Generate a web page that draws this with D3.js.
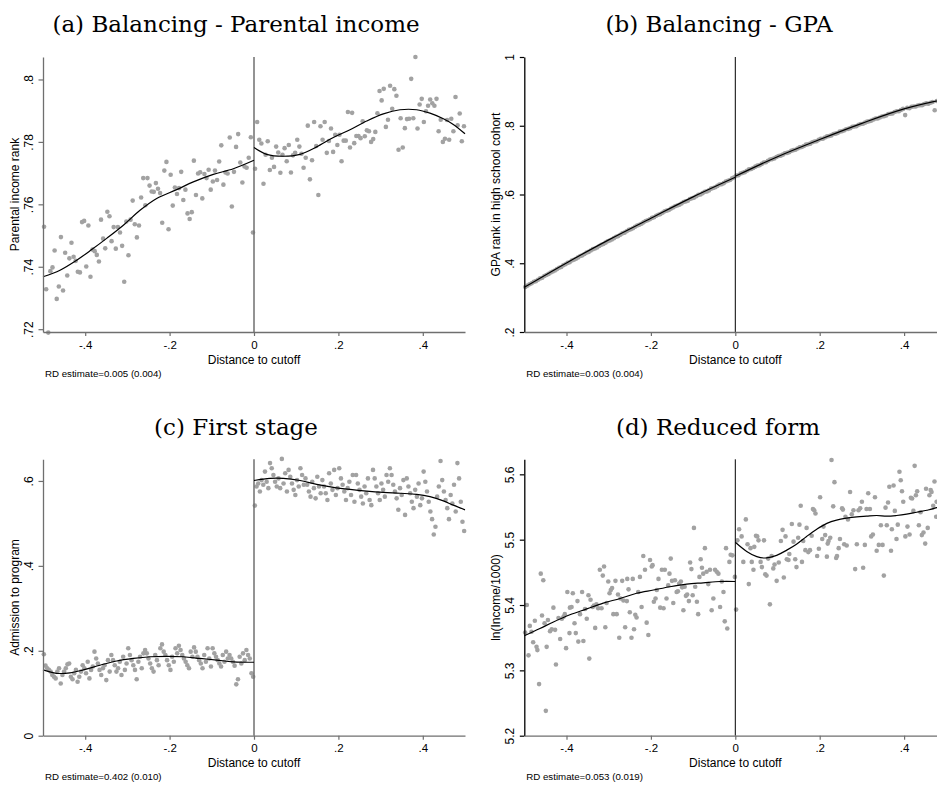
<!DOCTYPE html>
<meta charset="utf-8">
<script src="https://d3js.org/d3.v7.min.js"></script>
<style>
  body { margin: 0; background: #fff; }
  svg { display: block; }
</style>
<body>
<div id="chart"></div>
<script>

// ---- text ----
var titles = ["(a) Balancing - Parental income", "(b) Balancing - GPA", "(c) First stage", "(d) Reduced form"];
var yTitles = ["Parental income rank", "GPA rank in high school cohort", "Admission to program", "ln(Income/1000)"];
var rdNotes = ["RD estimate=0.005 (0.004)", "RD estimate=0.003 (0.004)", "RD estimate=0.402 (0.010)", "RD estimate=0.053 (0.019)"];
var xTitle = "Distance to cutoff";

// ---- ticks and y ranges ----
var xTicks = [-.4, -.2, 0, .2, .4];
var yTicksA = [.72, .74, .76, .78, .8];
var yTicksB = [.2, .4, .6, .8, 1];
var yTicksC = [0, .2, .4, .6];
var yTicksD = [5.2, 5.3, 5.4, 5.5, 5.6];
var yDomA = [.7191, .8072], yDomB = [.2, 1], yDomC = [0, .651], yDomD = [5.2, 5.623];

// ---- bin centres (distance to cutoff) ----
var bins005Left = [-.4975,-.4925,-.4875,-.4825,-.4775,-.4725,-.4675,-.4625,-.4575,-.4525,
  -.4475,-.4425,-.4375,-.4325,-.4275,-.4225,-.4175,-.4125,-.4075,-.4025,
  -.3975,-.3925,-.3875,-.3825,-.3775,-.3725,-.3675,-.3625,-.3575,-.3525,
  -.3475,-.3425,-.3375,-.3325,-.3275,-.3225,-.3175,-.3125,-.3075,-.3025,
  -.2975,-.2925,-.2875,-.2825,-.2775,-.2725,-.2675,-.2625,-.2575,-.2525,
  -.2475,-.2425,-.2375,-.2325,-.2275,-.2225,-.2175,-.2125,-.2075,-.2025,
  -.1975,-.1925,-.1875,-.1825,-.1775,-.1725,-.1675,-.1625,-.1575,-.1525,
  -.1475,-.1425,-.1375,-.1325,-.1275,-.1225,-.1175,-.1125,-.1075,-.1025,
  -.0975,-.0925,-.0875,-.0825,-.0775,-.0725,-.0675,-.0625,-.0575,-.0525,
  -.0475,-.0425,-.0375,-.0325,-.0275,-.0225,-.0175,-.0125,-.0075,-.0025];
var bins005Right = [.0025,.0075,.0125,.0175,.0225,.0275,.0325,.0375,.0425,.0475,
  .0525,.0575,.0625,.0675,.0725,.0775,.0825,.0875,.0925,.0975,
  .1025,.1075,.1125,.1175,.1225,.1275,.1325,.1375,.1425,.1475,
  .1525,.1575,.1625,.1675,.1725,.1775,.1825,.1875,.1925,.1975,
  .2025,.2075,.2125,.2175,.2225,.2275,.2325,.2375,.2425,.2475,
  .2525,.2575,.2625,.2675,.2725,.2775,.2825,.2875,.2925,.2975,
  .3025,.3075,.3125,.3175,.3225,.3275,.3325,.3375,.3425,.3475,
  .3525,.3575,.3625,.3675,.3725,.3775,.3825,.3875,.3925,.3975,
  .4025,.4075,.4125,.4175,.4225,.4275,.4325,.4375,.4425,.4475,
  .4525,.4575,.4625,.4675,.4725,.4775,.4825,.4875,.4925,.4975];
var bins004Left = [-.498,-.494,-.490,-.486,-.482,-.478,-.474,-.470,-.466,-.462,
  -.458,-.454,-.450,-.446,-.442,-.438,-.434,-.430,-.426,-.422,
  -.418,-.414,-.410,-.406,-.402,-.398,-.394,-.390,-.386,-.382,
  -.378,-.374,-.370,-.366,-.362,-.358,-.354,-.350,-.346,-.342,
  -.338,-.334,-.330,-.326,-.322,-.318,-.314,-.310,-.306,-.302,
  -.298,-.294,-.290,-.286,-.282,-.278,-.274,-.270,-.266,-.262,
  -.258,-.254,-.250,-.246,-.242,-.238,-.234,-.230,-.226,-.222,
  -.218,-.214,-.210,-.206,-.202,-.198,-.194,-.190,-.186,-.182,
  -.178,-.174,-.170,-.166,-.162,-.158,-.154,-.150,-.146,-.142,
  -.138,-.134,-.130,-.126,-.122,-.118,-.114,-.110,-.106,-.102,
  -.098,-.094,-.090,-.086,-.082,-.078,-.074,-.070,-.066,-.062,
  -.058,-.054,-.050,-.046,-.042,-.038,-.034,-.030,-.026,-.022,
  -.018,-.014,-.010,-.006,-.002];
var bins004Right = [.002,.006,.010,.014,.018,.022,.026,.030,.034,.038,
  .042,.046,.050,.054,.058,.062,.066,.070,.074,.078,
  .082,.086,.090,.094,.098,.102,.106,.110,.114,.118,
  .122,.126,.130,.134,.138,.142,.146,.150,.154,.158,
  .162,.166,.170,.174,.178,.182,.186,.190,.194,.198,
  .202,.206,.210,.214,.218,.222,.226,.230,.234,.238,
  .242,.246,.250,.254,.258,.262,.266,.270,.274,.278,
  .282,.286,.290,.294,.298,.302,.306,.310,.314,.318,
  .322,.326,.330,.334,.338,.342,.346,.350,.354,.358,
  .362,.366,.370,.374,.378,.382,.386,.390,.394,.398,
  .402,.406,.410,.414,.418,.422,.426,.430,.434,.438,
  .442,.446,.450,.454,.458,.462,.466,.470,.474,.478,
  .482,.486,.490,.494,.498];

// ---- (a) parental income rank, bin means ----
var aLeftY = [.7528,.7328,.7189,.7386,.7398,.7452,.7297,.7337,.7495,.7324,
  .7445,.7372,.7427,.7477,.7432,.7419,.7384,.7382,.7543,.7547,
  .7401,.7532,.7368,.7455,.7450,.7438,.7417,.7551,.7490,.7459,
  .7576,.7562,.7482,.7527,.7458,.7527,.7510,.7467,.7352,.7545,
  .7437,.7551,.7612,.7536,.7494,.7532,.7622,.7684,.7597,.7684,
  .7660,.7641,.7640,.7668,.7650,.7636,.7541,.7708,.7736,.7520,
  .7695,.7596,.7654,.7633,.7652,.7704,.7614,.7647,.7571,.7553,
  .7575,.7740,.7630,.7699,.7703,.7619,.7697,.7684,.7711,.7647,
  .7673,.7708,.7678,.7737,.7789,.7663,.7702,.7699,.7814,.7593,
  .7704,.7784,.7825,.7734,.7670,.7721,.7717,.7749,.7815,.7510];
var aRightY = [.7714,.7864,.7807,.7795,.7666,.7759,.7802,.7710,.7749,.7720,
  .7785,.7766,.7701,.7759,.7780,.7738,.7790,.7702,.7757,.7765,
  .7807,.7785,.7762,.7717,.7749,.7852,.7680,.7741,.7864,.7787,
  .7630,.7850,.7807,.7864,.7765,.7803,.7843,.7768,.7823,.7790,
  .7823,.7738,.7804,.7804,.7896,.7782,.7893,.7796,.7819,.7819,
  .7812,.7866,.7818,.7837,.7834,.7800,.7809,.7832,.7892,.7963,
  .7933,.7970,.7848,.7871,.7980,.7906,.7969,.7948,.7775,.7876,
  .7782,.7844,.7873,.7874,.8002,.7876,.8072,.7843,.7920,.7938,
  .7864,.7898,.7916,.7936,.7924,.7916,.7938,.7834,.7871,.7800,
  .7810,.7870,.7807,.7874,.7834,.7944,.7853,.7891,.7802,.7850];
var aFitLeft = [[-.5,.7368],[-.4597,.7389],[-.4202,.7421],[-.3847,.7455],[-.3491,.7491],[-.3096,.7533],
  [-.2701,.7581],[-.2306,.7619],[-.1833,.7647],[-.1438,.7672],[-.0964,.7696],[-.049,.7714],[0,.7741]];
var aFitRight = [[0,.7782],[.030,.7760],[.0695,.7754],[.109,.7760],[.1485,.7784],[.188,.7814],[.2275,.7839],
  [.267,.7867],[.3065,.7890],[.346,.7903],[.3855,.7903],[.417,.7892],[.4487,.7874],[.4723,.7856],[.5,.7826]];

// ---- (b) GPA rank ----
var bLeftY = [.331,.335,.339,.342,.346,.348,.352,.356,.358,.363,
  .366,.369,.373,.376,.379,.383,.387,.389,.394,.397,
  .401,.403,.408,.410,.413,.417,.421,.423,.427,.431,
  .433,.437,.441,.443,.446,.450,.454,.456,.460,.464,
  .466,.469,.473,.477,.479,.483,.487,.489,.493,.497,
  .499,.502,.506,.510,.512,.515,.519,.523,.525,.528,
  .532,.534,.538,.541,.543,.547,.551,.553,.555,.559,
  .562,.566,.568,.570,.574,.578,.580,.582,.587,.589,
  .591,.595,.599,.600,.604,.608,.609,.612,.617,.619,
  .621,.625,.629,.630,.633,.638,.640,.642,.647,.650];
var bRightY = [.655,.656,.661,.663,.665,.669,.673,.674,.677,.681,
  .684,.685,.689,.693,.694,.698,.702,.703,.705,.709,
  .712,.713,.716,.720,.721,.723,.727,.729,.730,.734,
  .737,.738,.741,.745,.746,.748,.752,.754,.755,.759,
  .762,.762,.766,.769,.770,.772,.776,.777,.779,.783,
  .784,.786,.790,.791,.793,.797,.798,.799,.803,.805,
  .806,.809,.812,.813,.815,.818,.821,.821,.824,.827,
  .828,.830,.834,.835,.836,.840,.842,.842,.846,.849,
  .831,.852,.851,.855,.856,.856,.859,.860,.860,.863,
  .865,.864,.867,.869,.845,.872,.873,.872,.876,.877];
var bFitLeft = [[-.5,.330],[-.4,.401],[-.3,.468],[-.2,.531],[-.1,.593],[0,.650]];
var bFitRight = [[0,.653],[.1,.710],[.2,.760],[.3,.807],[.4,.849],[.5,.878]];

// ---- (c) admission ----
var cLeftY = [.192,.165,.159,.155,.151,.143,.139,.135,.151,.159,
  .123,.143,.151,.159,.168,.170,.139,.133,.147,.155,
  .127,.139,.151,.166,.159,.147,.174,.135,.155,.163,
  .198,.182,.170,.155,.143,.159,.166,.131,.178,.151,
  .190,.178,.166,.151,.159,.174,.143,.186,.155,.170,
  .206,.190,.178,.166,.155,.133,.174,.186,.159,.194,
  .202,.194,.182,.170,.159,.151,.190,.178,.166,.206,
  .215,.198,.190,.178,.166,.155,.186,.174,.206,.194,
  .212,.202,.190,.182,.174,.166,.159,.198,.186,.208,
  .198,.186,.178,.170,.159,.190,.174,.206,.182,.163,
  .206,.194,.186,.178,.170,.163,.190,.174,.198,.182,
  .190,.182,.174,.165,.121,.133,.186,.170,.194,.178,
  .202,.190,.182,.147,.139];
var cRightY = [.542,.587,.594,.575,.602,.591,.622,.598,.583,.642,
  .630,.614,.598,.587,.606,.583,.652,.594,.618,.575,
  .626,.610,.594,.579,.567,.602,.587,.630,.614,.591,
  .606,.591,.575,.563,.598,.583,.559,.610,.587,.571,
  .602,.587,.571,.555,.618,.594,.579,.626,.567,.583,
  .630,.606,.591,.575,.555,.583,.598,.567,.614,.551,
  .614,.594,.579,.563,.547,.587,.571,.606,.555,.543,
  .626,.606,.587,.571,.555,.594,.579,.563,.614,.598,
  .630,.614,.591,.575,.559,.532,.583,.567,.602,.520,
  .606,.587,.571,.551,.536,.579,.563,.594,.543,.559,
  .622,.598,.575,.551,.528,.510,.474,.492,.563,.587,
  .647,.602,.575,.555,.536,.510,.567,.547,.591,.528,
  .642,.606,.551,.504,.482];
var cFitLeft = [[-.5,.155],[-.468,.147],[-.436,.148],[-.404,.155],[-.365,.166],[-.3255,.176],[-.286,.182],
  [-.246,.186],[-.207,.187],[-.167,.186],[-.128,.182],[-.088,.178],[-.049,.174],[0,.173]];
var cFitRight = [[0,.601],[.038,.606],[.0695,.606],[.109,.601],[.1485,.592],[.188,.585],[.2275,.580],[.267,.576],
  [.3065,.573],[.346,.571],[.3855,.5685],[.417,.563],[.4487,.553],[.4723,.543],[.5,.532]];

// ---- (d) ln income ----
var dLeftX = [-.498,-.494,-.490,-.487,-.483,-.479,-.475,-.471,-.469,-.465,
  -.461,-.458,-.455,-.452,-.449,-.447,-.444,-.439,-.435,-.431,
  -.427,-.425,-.419,-.415,-.411,-.407,-.404,-.401,-.398,-.393,
  -.392,-.388,-.385,-.381,-.378,-.374,-.372,-.368,-.363,-.360,
  -.356,-.352,-.348,-.346,-.343,-.338,-.335,-.332,-.329,-.325,
  -.321,-.317,-.314,-.311,-.308,-.305,-.301,-.298,-.295,-.292,
  -.289,-.284,-.281,-.278,-.275,-.272,-.268,-.265,-.261,-.257,
  -.256,-.253,-.250,-.246,-.243,-.240,-.237,-.234,-.230,-.226,
  -.222,-.218,-.214,-.210,-.206,-.202,-.198,-.196,-.193,-.189,
  -.186,-.182,-.178,-.174,-.170,-.167,-.163,-.159,-.156,-.153,
  -.150,-.147,-.143,-.139,-.136,-.133,-.129,-.126,-.123,-.120,
  -.117,-.114,-.110,-.107,-.104,-.101,-.098,-.095,-.091,-.088,
  -.085,-.082,-.079,-.076,-.072,-.068,-.064,-.060,-.056,-.052,
  -.048,-.044,-.040,-.036,-.032,-.028,-.025,-.022,-.019,-.014,
  -.011,-.007,-.001];
var dLeftY = [5.358,5.400,5.323,5.368,5.359,5.343,5.376,5.336,5.331,5.279,
  5.448,5.384,5.438,5.372,5.238,5.336,5.377,5.360,5.363,5.396,
  5.362,5.309,5.380,5.348,5.379,5.382,5.386,5.334,5.420,5.357,
  5.396,5.397,5.418,5.372,5.357,5.406,5.344,5.386,5.420,5.345,
  5.394,5.379,5.415,5.318,5.408,5.397,5.399,5.365,5.401,5.395,
  5.454,5.395,5.445,5.459,5.366,5.403,5.436,5.418,5.423,5.426,
  5.386,5.437,5.386,5.416,5.350,5.410,5.437,5.407,5.366,5.406,
  5.440,5.424,5.389,5.350,5.440,5.363,5.385,5.381,5.420,5.443,
  5.397,5.475,5.454,5.373,5.354,5.469,5.459,5.461,5.405,5.410,
  5.423,5.440,5.396,5.454,5.395,5.454,5.410,5.430,5.448,5.471,
  5.437,5.403,5.438,5.420,5.421,5.433,5.436,5.427,5.392,5.428,
  5.414,5.416,5.406,5.465,5.455,5.415,5.518,5.428,5.405,5.386,
  5.443,5.470,5.457,5.448,5.487,5.451,5.432,5.454,5.392,5.410,
  5.454,5.451,5.448,5.397,5.436,5.420,5.375,5.487,5.364,5.466,
  5.477,5.476,5.443];
var dRightX = [.002,.005,.009,.015,.019,.025,.029,.032,.036,.039,
  .043,.045,.049,.052,.055,.060,.063,.068,.071,.074,
  .078,.082,.086,.090,.093,.098,.103,.108,.112,.115,
  .119,.122,.126,.128,.134,.138,.142,.145,.149,.152,
  .155,.158,.161,.166,.169,.173,.177,.181,.184,.187,
  .190,.194,.198,.201,.206,.209,.213,.217,.219,.221,
  .225,.228,.232,.235,.239,.241,.245,.248,.253,.255,
  .258,.261,.264,.267,.272,.276,.280,.284,.288,.292,
  .296,.300,.303,.307,.311,.315,.319,.322,.326,.331,
  .335,.340,.345,.349,.352,.356,.359,.362,.365,.369,
  .371,.375,.378,.382,.385,.389,.392,.395,.398,.403,
  .408,.413,.416,.419,.422,.425,.428,.431,.435,.439,
  .442,.446,.450,.452,.456,.460,.463,.465,.469,.472,
  .476,.477];
var dRightY = [5.393,5.499,5.516,5.505,5.466,5.531,5.493,5.432,5.487,5.466,
  5.454,5.489,5.506,5.505,5.499,5.466,5.458,5.499,5.447,5.445,
  5.471,5.401,5.475,5.456,5.462,5.437,5.465,5.498,5.515,5.442,
  5.505,5.470,5.469,5.478,5.524,5.497,5.470,5.458,5.503,5.523,
  5.552,5.466,5.498,5.484,5.518,5.481,5.484,5.506,5.547,5.545,
  5.540,5.475,5.486,5.565,5.501,5.520,5.507,5.474,5.494,5.498,
  5.503,5.622,5.551,5.588,5.472,5.475,5.487,5.501,5.548,5.546,
  5.493,5.535,5.491,5.531,5.573,5.539,5.545,5.455,5.493,5.545,
  5.548,5.558,5.457,5.492,5.547,5.571,5.547,5.505,5.508,5.565,
  5.483,5.492,5.522,5.492,5.445,5.549,5.522,5.557,5.581,5.483,
  5.516,5.583,5.544,5.501,5.523,5.604,5.591,5.574,5.558,5.505,
  5.520,5.508,5.564,5.563,5.544,5.613,5.568,5.574,5.522,5.542,
  5.507,5.511,5.494,5.578,5.518,5.568,5.576,5.573,5.552,5.589,
  5.535,5.558];
var dFitLeft = [[-.5,5.353],[-.463,5.364],[-.431,5.374],[-.392,5.385],[-.352,5.394],[-.313,5.403],[-.273,5.410],
  [-.234,5.418],[-.194,5.423],[-.155,5.428],[-.115,5.432],[-.076,5.434],[-.036,5.436],[0,5.436]];
var dFitRight = [[0,5.496],[.027,5.482],[.051,5.474],[.074,5.472],[.098,5.476],[.122,5.484],[.145,5.493],
  [.169,5.505],[.193,5.516],[.217,5.525],[.240,5.530],[.264,5.533],[.288,5.535],[.311,5.536],[.335,5.537],
  [.359,5.536],[.382,5.537],[.406,5.539],[.430,5.542],[.454,5.545],[.477,5.549],[.5,5.556]];

// ---- layout ----
var W = 937, H = 785;
var sans = "'Liberation Sans', Arial, sans-serif";
var serif = "'DejaVu Serif', serif";
var dotColor = "#a2a2a2";

var panels = [
  {title: titles[0], yTitle: yTitles[0], note: rdNotes[0], yTicks: yTicksA, yDom: yDomA,
   x0: 43, x1: 465, top: 57, bottom: 332, tx: 236, ty: 32, axisCol: "#6f6f6f", zeroCol: "#6f6f6f", zeroW: 1.5,
   sides: [[bins005Left, aLeftY], [bins005Right, aRightY]], fits: [aFitLeft, aFitRight]},
  {title: titles[1], yTitle: yTitles[1], note: rdNotes[1], yTicks: yTicksB, yDom: yDomB,
   x0: 524.3, x1: 946.3, top: 57, bottom: 332, tx: 719, ty: 32, axisCol: "#000", zeroCol: "#000", zeroW: 1,
   sides: [[bins005Left, bLeftY], [bins005Right, bRightY]], fits: [bFitLeft, bFitRight]},
  {title: titles[2], yTitle: yTitles[2], note: rdNotes[2], yTicks: yTicksC, yDom: yDomC,
   x0: 43, x1: 465, top: 459.3, bottom: 735.7, tx: 236, ty: 435, axisCol: "#6f6f6f", zeroCol: "#6f6f6f", zeroW: 1.5,
   sides: [[bins004Left, cLeftY], [bins004Right, cRightY]], fits: [cFitLeft, cFitRight]},
  {title: titles[3], yTitle: yTitles[3], note: rdNotes[3], yTicks: yTicksD, yDom: yDomD,
   x0: 524.3, x1: 946.3, top: 459.3, bottom: 735.7, tx: 718, ty: 435, axisCol: "#000", zeroCol: "#000", zeroW: 1,
   sides: [[dLeftX, dLeftY], [dRightX, dRightY]], fits: [dFitLeft, dFitRight]}
];

var svg = d3.select("#chart").append("svg")
  .attr("width", W).attr("height", H)
  .style("background", "#fff");

// strip the leading zero like Stata does: .4, -.2
function fmt(d) {
  if (d === 0) return "0";
  return String(d).replace(/^(-?)0\./, "$1.");
}

panels.forEach(function(p) {
  var x = d3.scaleLinear().domain([-.5, .5]).range([p.x0, p.x1]);
  var y = d3.scaleLinear().domain(p.yDom).range([p.bottom, p.top]);
  var g = svg.append("g");

  g.append("text")
    .attr("x", p.tx).attr("y", p.ty)
    .attr("text-anchor", "middle")
    .style("font-family", serif).style("font-size", "23px")
    .text(p.title);

  // binned means
  var pts = [];
  p.sides.forEach(function(s) {
    s[0].forEach(function(v, i) { pts.push([v, s[1][i]]); });
  });
  g.selectAll("circle").data(pts).join("circle")
    .attr("cx", function(d) { return x(d[0]); })
    .attr("cy", function(d) { return y(d[1]); })
    .attr("r", 2.3)
    .attr("fill", dotColor);

  // cutoff
  g.append("line")
    .attr("x1", x(0)).attr("x2", x(0))
    .attr("y1", p.top).attr("y2", p.bottom)
    .attr("stroke", p.zeroCol).attr("stroke-width", p.zeroW);

  // polynomial fits
  var line = d3.line()
    .x(function(d) { return x(d[0]); })
    .y(function(d) { return y(d[1]); })
    .curve(d3.curveCatmullRom);
  p.fits.forEach(function(f) {
    g.append("path").attr("d", line(f))
      .attr("fill", "none").attr("stroke", "#000").attr("stroke-width", 1.2);
  });

  // y axis
  var ya = g.append("g")
    .attr("transform", "translate(" + p.x0 + ",0)")
    .call(d3.axisLeft(y).tickValues(p.yTicks).tickFormat(fmt).tickSize(4.5).tickSizeOuter(0));
  ya.select(".domain").attr("stroke", p.axisCol).attr("stroke-width", 1.3);
  ya.selectAll(".tick line").attr("stroke", p.axisCol).attr("stroke-width", 1.2);
  ya.selectAll(".tick text")
    .attr("transform", "rotate(-90)")
    .attr("x", 0).attr("y", -10).attr("dy", 0)
    .attr("text-anchor", "middle")
    .style("font-family", sans).style("font-size", "12px").attr("fill", "#000");

  // x axis
  var xa = g.append("g")
    .attr("transform", "translate(0," + p.bottom + ")")
    .call(d3.axisBottom(x).tickValues(xTicks).tickFormat(fmt).tickSize(4).tickSizeOuter(0));
  xa.select(".domain").attr("stroke", "#6f6f6f").attr("stroke-width", 1.3);
  xa.selectAll(".tick line").attr("stroke", "#6f6f6f").attr("stroke-width", 1.2);
  xa.selectAll(".tick text")
    .attr("y", 16.5).attr("dy", 0)
    .style("font-family", sans).style("font-size", "11.5px").attr("fill", "#000");

  g.append("text")
    .attr("x", x(0)).attr("y", p.bottom + 31.5)
    .attr("text-anchor", "middle")
    .style("font-family", sans).style("font-size", "12px")
    .text(xTitle);

  g.append("text")
    .attr("transform", "translate(" + (p.x0 - 24.5) + "," + ((p.top + p.bottom) / 2) + ") rotate(-90)")
    .attr("text-anchor", "middle")
    .style("font-family", sans).style("font-size", "12px")
    .text(p.yTitle);

  g.append("text")
    .attr("x", p.x0 + 2).attr("y", p.bottom + 44.5)
    .style("font-family", sans).style("font-size", "9.7px")
    .text(p.note);
});

</script>
